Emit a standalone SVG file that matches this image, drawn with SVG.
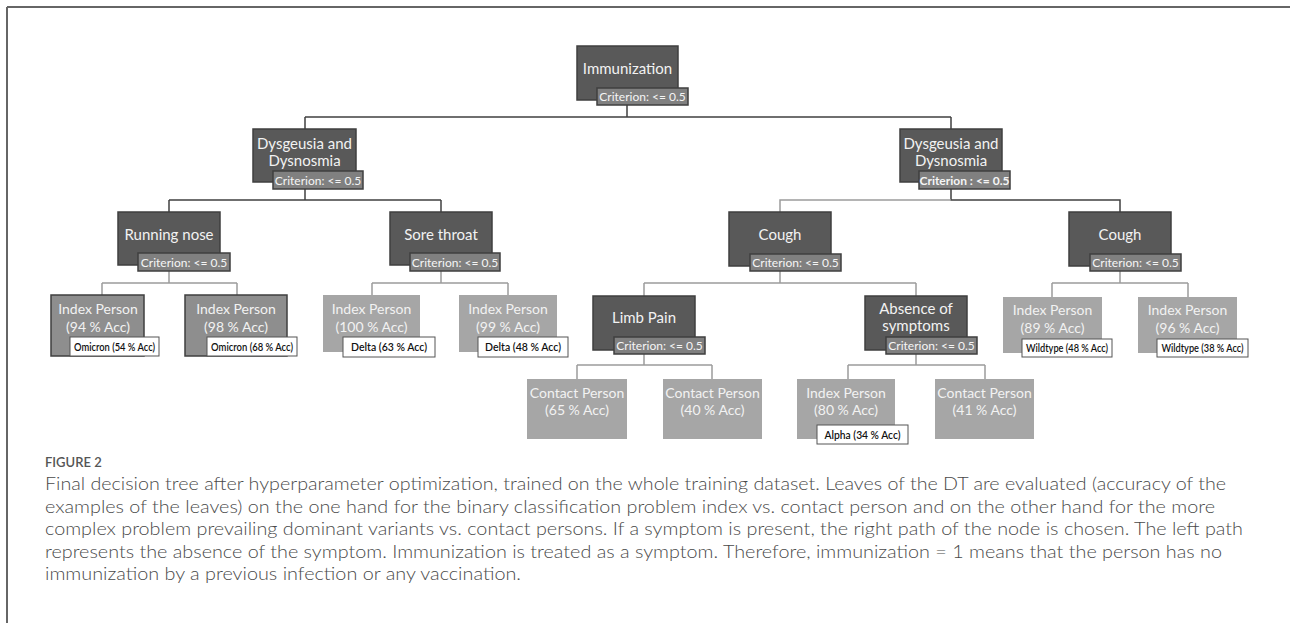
<svg xmlns="http://www.w3.org/2000/svg" width="1290" height="623" viewBox="0 0 1290 623">
<style>
.dark{fill:#595959;stroke:#3f3f3f;stroke-width:1.5}
.badge{fill:#808080;stroke:#3f3f3f;stroke-width:1.5}
.leafB{fill:#8e8e8e;stroke:#3f3f3f;stroke-width:1.5}
.leaf{fill:#a6a6a6}
.tag{fill:#ffffff;stroke:#555;stroke-width:1}
.nt{font-family:Lato,"Open Sans",sans-serif;font-size:15px;fill:#f2f2f2;text-anchor:middle}
.ct{font-family:Lato,"Open Sans",sans-serif;font-size:12px;fill:#f5f5f5;text-anchor:middle}
.lt{font-family:Lato,"Open Sans",sans-serif;font-size:14px;fill:#f2f2f2;text-anchor:middle}
.tt{font-family:Lato,"Open Sans",sans-serif;font-size:10.5px;font-weight:600;fill:#111;text-anchor:middle}
.cap{font-family:Lato,"Open Sans",sans-serif;font-weight:300;font-size:17.5px;fill:#4a4a4a}
.fig{font-family:Lato,"Open Sans",sans-serif;font-weight:600;font-size:13px;fill:#555}
.cd{fill:none;stroke:#404040;stroke-width:1.5}
.cg{fill:none;stroke:#9c9c9c;stroke-width:1.5}
</style>
<path d="M7,7 H1290 M7,7 V623" fill="none" stroke="#666" stroke-width="2"/>
<g id="connectors">
<path class="cd" d="M627,105 V117 M305,117 H951 M305,117 V129 M951,117 V129"/>
<path class="cd" d="M305,189 V200 M169,200 H441 M169,200 V212 M441,200 V212"/>
<path class="cd" d="M951,189 V200 H1120 V212"/>
<path class="cg" d="M951,200 H780 V212"/>
<path class="cg" d="M169,271 V283 M102,283 H237 M102,283 V295 M237,283 V295"/>
<path class="cg" d="M441,271 V283 M372,283 H508 M372,283 V295 M508,283 V295"/>
<path class="cg" d="M780,271 V283 M644,283 H916 M644,283 V296 M916,283 V296"/>
<path class="cg" d="M644,354 V365 M577,365 H712 M577,365 V379 M712,365 V379"/>
<path class="cg" d="M916,354 V365 M848,365 H985 M848,365 V379 M985,365 V379"/>
<path class="cg" d="M1120,271 V283 M1052,283 H1188 M1052,283 V297 M1188,283 V297"/>
</g>
<g id="n-immunization">
<rect class="dark" x="577" y="46" width="101" height="54"/>
<text class="nt" x="627.5" y="74">Immunization</text>
<rect class="badge" x="597" y="88" width="91" height="17"/>
<text class="ct" x="642.5" y="101">Criterion: &lt;= 0.5</text>
</g>
<g id="n-dys-left">
<rect class="dark" x="253" y="129" width="103" height="53"/>
<text class="nt" x="304.5" y="149">Dysgeusia and</text>
<text class="nt" x="304.5" y="166">Dysnosmia</text>
<rect class="badge" x="273" y="171" width="90" height="18"/>
<text class="ct" x="318" y="184.5">Criterion: &lt;= 0.5</text>
</g>
<g id="n-dys-right">
<rect class="dark" x="900" y="129" width="102" height="53"/>
<text class="nt" x="951" y="149">Dysgeusia and</text>
<text class="nt" x="951" y="166">Dysnosmia</text>
<rect class="badge" x="919" y="171" width="91" height="18"/>
<text class="ct" x="964.5" y="184.5" font-weight="bold">Criterion : &lt;= 0.5</text>
</g>
<g id="n-running-nose">
<rect class="dark" x="118" y="212" width="102" height="53"/>
<text class="nt" x="169" y="240">Running nose</text>
<rect class="badge" x="138" y="253" width="92" height="18"/>
<text class="ct" x="184" y="266.5">Criterion: &lt;= 0.5</text>
</g>
<g id="n-sore-throat">
<rect class="dark" x="390" y="212" width="102" height="53"/>
<text class="nt" x="441" y="240">Sore throat</text>
<rect class="badge" x="410" y="253" width="90" height="18"/>
<text class="ct" x="455" y="266.5">Criterion: &lt;= 0.5</text>
</g>
<g id="n-cough-left">
<rect class="dark" x="729" y="212" width="102" height="54"/>
<text class="nt" x="780" y="240">Cough</text>
<rect class="badge" x="750" y="254" width="91" height="17"/>
<text class="ct" x="795.5" y="267">Criterion: &lt;= 0.5</text>
</g>
<g id="n-cough-right">
<rect class="dark" x="1069" y="212" width="102" height="54"/>
<text class="nt" x="1120" y="240">Cough</text>
<rect class="badge" x="1090" y="254" width="91" height="17"/>
<text class="ct" x="1135.5" y="267">Criterion: &lt;= 0.5</text>
</g>
<g id="n-limb-pain">
<rect class="dark" x="593" y="296" width="102" height="54"/>
<text class="nt" x="644" y="323">Limb Pain</text>
<rect class="badge" x="614" y="337" width="91" height="17"/>
<text class="ct" x="659.5" y="350">Criterion: &lt;= 0.5</text>
</g>
<g id="n-absence">
<rect class="dark" x="865" y="296" width="102" height="54"/>
<text class="nt" x="916" y="314">Absence of</text>
<text class="nt" x="916" y="331">symptoms</text>
<rect class="badge" x="886" y="337" width="91" height="17"/>
<text class="ct" x="931.5" y="350">Criterion: &lt;= 0.5</text>
</g>
<g id="l-ip94">
<rect class="leafB" x="51" y="295" width="93" height="61"/>
<text class="lt" x="98" y="314">Index Person</text>
<text class="lt" x="98" y="332">(94 % Acc)</text>
<rect class="tag" x="70" y="337" width="89" height="19"/>
<text class="tt" x="114.5" y="350.5" textLength="81" lengthAdjust="spacingAndGlyphs">Omicron (54 % Acc)</text>
</g>
<g id="l-ip98">
<rect class="leafB" x="185" y="295" width="102" height="61"/>
<text class="lt" x="236" y="314">Index Person</text>
<text class="lt" x="236" y="332">(98 % Acc)</text>
<rect class="tag" x="207" y="337" width="90" height="19"/>
<text class="tt" x="252" y="350.5" textLength="82" lengthAdjust="spacingAndGlyphs">Omicron (68 % Acc)</text>
</g>
<g id="l-ip100">
<rect class="leaf" x="323" y="295" width="97" height="57"/>
<text class="lt" x="371.5" y="314">Index Person</text>
<text class="lt" x="371.5" y="332">(100 % Acc)</text>
<rect class="tag" x="343" y="337" width="92" height="20"/>
<text class="tt" x="389" y="351" textLength="76" lengthAdjust="spacingAndGlyphs">Delta (63 % Acc)</text>
</g>
<g id="l-ip99">
<rect class="leaf" x="459" y="295" width="98" height="57"/>
<text class="lt" x="508" y="314">Index Person</text>
<text class="lt" x="508" y="332">(99 % Acc)</text>
<rect class="tag" x="478" y="337" width="90" height="20"/>
<text class="tt" x="523" y="351" textLength="76" lengthAdjust="spacingAndGlyphs">Delta (48 % Acc)</text>
</g>
<g id="l-cp65">
<rect class="leaf" x="527" y="379" width="100" height="60"/>
<text class="lt" x="577" y="398">Contact Person</text>
<text class="lt" x="577" y="415">(65 % Acc)</text>
</g>
<g id="l-cp40">
<rect class="leaf" x="663" y="379" width="99" height="60"/>
<text class="lt" x="712.5" y="398">Contact Person</text>
<text class="lt" x="712.5" y="415">(40 % Acc)</text>
</g>
<g id="l-ip80">
<rect class="leaf" x="797" y="379" width="98" height="60"/>
<text class="lt" x="846" y="398">Index Person</text>
<text class="lt" x="846" y="415">(80 % Acc)</text>
<rect class="tag" x="817" y="425" width="91" height="19"/>
<text class="tt" x="862.5" y="438.5" textLength="76" lengthAdjust="spacingAndGlyphs">Alpha (34 % Acc)</text>
</g>
<g id="l-cp41">
<rect class="leaf" x="935" y="379" width="99" height="60"/>
<text class="lt" x="984.5" y="398">Contact Person</text>
<text class="lt" x="984.5" y="415">(41 % Acc)</text>
</g>
<g id="l-ip89">
<rect class="leaf" x="1003" y="297" width="99" height="56"/>
<text class="lt" x="1052.5" y="315">Index Person</text>
<text class="lt" x="1052.5" y="333">(89 % Acc)</text>
<rect class="tag" x="1022" y="339" width="90" height="18"/>
<text class="tt" x="1067" y="352" textLength="82" lengthAdjust="spacingAndGlyphs">Wildtype (48 % Acc)</text>
</g>
<g id="l-ip96">
<rect class="leaf" x="1138" y="297" width="99" height="56"/>
<text class="lt" x="1187.5" y="315">Index Person</text>
<text class="lt" x="1187.5" y="333">(96 % Acc)</text>
<rect class="tag" x="1157" y="339" width="91" height="18"/>
<text class="tt" x="1202.5" y="352" textLength="82" lengthAdjust="spacingAndGlyphs">Wildtype (38 % Acc)</text>
</g>
<g id="caption">
<text class="fig" x="45" y="467">FIGURE 2</text>
<text class="cap" x="45" y="490" textLength="1181" lengthAdjust="spacingAndGlyphs">Final decision tree after hyperparameter optimization, trained on the whole training dataset. Leaves of the DT are evaluated (accuracy of the</text>
<text class="cap" x="45" y="512.5" textLength="1170" lengthAdjust="spacingAndGlyphs">examples of the leaves) on the one hand for the binary classification problem index vs. contact person and on the other hand for the more</text>
<text class="cap" x="45" y="535" textLength="1198" lengthAdjust="spacingAndGlyphs">complex problem prevailing dominant variants vs. contact persons. If a symptom is present, the right path of the node is chosen. The left path</text>
<text class="cap" x="45" y="557.5" textLength="1177" lengthAdjust="spacingAndGlyphs">represents the absence of the symptom. Immunization is treated as a symptom. Therefore, immunization = 1 means that the person has no</text>
<text class="cap" x="45" y="580" textLength="476" lengthAdjust="spacingAndGlyphs">immunization by a previous infection or any vaccination.</text>
</g>
</svg>
